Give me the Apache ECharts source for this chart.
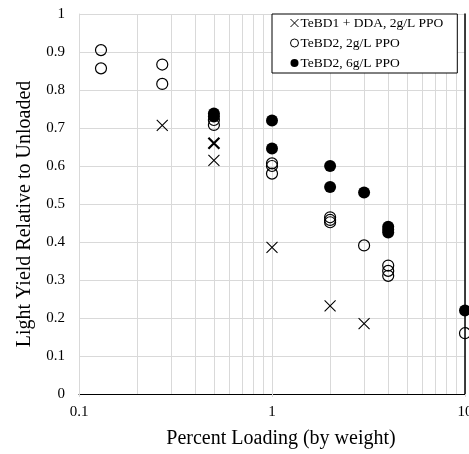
<!DOCTYPE html>
<html>
<head>
<meta charset="utf-8">
<script src="https://cdn.jsdelivr.net/npm/echarts@6/dist/echarts.min.js"></script>
<style>
  html, body { margin: 0; padding: 0; background: #fff; }
  #chart { width: 469px; height: 454px; }
</style>
</head>
<body>
<div id="chart"></div>
<script>
// values
var ddaPoints = [[0.27, 0.707], [0.5, 0.66], [0.5, 0.615], [1, 0.386], [2, 0.232], [3, 0.185]];
var tebd2LowPoints = [
  [0.13, 0.905], [0.13, 0.857], [0.27, 0.867], [0.27, 0.816],
  [0.5, 0.721], [0.5, 0.708], [1, 0.607], [1, 0.6], [1, 0.58],
  [2, 0.465], [2, 0.458], [2, 0.452], [3, 0.391],
  [4, 0.338], [4, 0.324], [4, 0.311], [10, 0.16]
];
var tebd2HighPoints = [
  [0.5, 0.738], [0.5, 0.73], [1, 0.72], [1, 0.646],
  [2, 0.6], [2, 0.545], [3, 0.53],
  [4, 0.44], [4, 0.432], [4, 0.425], [10, 0.22]
];
var minorX = [0.2, 0.3, 0.4, 0.5, 0.6, 0.7, 0.8, 0.9, 2, 3, 4, 5, 6, 7, 8, 9];
var seriesNames = ['TeBD1 + DDA, 2g/L PPO', 'TeBD2, 2g/L PPO', 'TeBD2, 6g/L PPO'];

var font = 'Liberation Serif';
var gridGrey = '#d9d9d9';
var crossPath = 'path://M0,0L10,10M10,0L0,10';

var chart = echarts.init(document.getElementById('chart'));

// the thick cross at 0.5 looks like a doubled mark
var ddaData = ddaPoints.map(function (p) {
  if (p[0] === 0.5 && p[1] === 0.66) {
    return { value: p, itemStyle: { borderWidth: 2.2 } };
  }
  return p;
});

chart.setOption({
  animation: false,
  backgroundColor: '#fff',
  grid: { left: 79, top: 14, right: 4, bottom: 60, outerBoundsMode: 'none', containLabel: false },
  legend: {
    data: [
      { name: seriesNames[0], icon: crossPath },
      { name: seriesNames[1], icon: 'circle' },
      { name: seriesNames[2], icon: 'circle' }
    ],
    z: 20,
    orient: 'vertical',
    left: 272,
    top: 14,
    padding: [2, 14, 3, 18],
    itemGap: 6,
    itemWidth: 8,
    itemHeight: 8,
    itemStyle: { borderWidth: 1 },
    backgroundColor: '#fff',
    borderColor: '#000',
    borderWidth: 1,
    borderRadius: 0,
    textStyle: { fontFamily: font, fontSize: 13.5, color: '#000', lineHeight: 14, padding: [0, 0, 0, -3] }
  },
  xAxis: [{
    type: 'log',
    logBase: 10,
    min: 0.1,
    max: 10,
    name: 'Percent Loading (by weight)',
    nameLocation: 'middle',
    nameGap: 35,
    nameTextStyle: { fontFamily: font, fontSize: 20, color: '#000', padding: [0, 0, 0, 18] },
    axisLine: { lineStyle: { color: gridGrey } },
    axisTick: { show: true, length: 3, lineStyle: { color: gridGrey } },
    axisLabel: { fontFamily: font, fontSize: 15, color: '#000', margin: 11 },
    splitLine: { show: true, lineStyle: { color: gridGrey } }
  }, {
    type: 'log',
    logBase: 10,
    min: 0.1,
    max: 10,
    position: 'top',
    axisLine: { show: true, lineStyle: { color: '#000', width: 1 } },
    axisTick: { show: false },
    axisLabel: { show: false },
    splitLine: { show: false }
  }],
  yAxis: [{
    type: 'value',
    min: 0,
    max: 1,
    interval: 0.1,
    name: 'Light Yield Relative to Unloaded',
    nameLocation: 'middle',
    nameGap: 44,
    nameTextStyle: { fontFamily: font, fontSize: 20, color: '#000', padding: [0, 20, 0, 0] },
    axisLine: { show: true, lineStyle: { color: gridGrey } },
    axisTick: { show: false },
    axisLabel: { fontFamily: font, fontSize: 15, color: '#000', margin: 14 },
    splitLine: { show: true, lineStyle: { color: gridGrey } }
  }, {
    type: 'value',
    min: 0,
    max: 1,
    interval: 0.1,
    position: 'right',
    axisLine: { show: true, lineStyle: { color: '#000', width: 1.5 } },
    axisTick: { show: false },
    axisLabel: { show: false },
    splitLine: { show: false }
  }],
  series: [{
    name: 'minor grid',
    type: 'scatter',
    data: [],
    silent: true,
    z: 1,
    markLine: {
      silent: true,
      symbol: 'none',
      z: 1,
      label: { show: false },
      lineStyle: { color: gridGrey, type: 'solid', width: 1 },
      data: minorX.map(function (v) { return { xAxis: v }; })
    }
  }, {
    name: seriesNames[2],
    type: 'scatter',
    symbol: 'circle',
    symbolSize: 12,
    itemStyle: { color: '#000', opacity: 1 },
    data: tebd2HighPoints,
    z: 3
  }, {
    name: seriesNames[1],
    type: 'scatter',
    symbol: 'circle',
    symbolSize: 11,
    itemStyle: { color: 'rgba(0,0,0,0)', borderColor: '#000', borderWidth: 1.2, opacity: 1 },
    data: tebd2LowPoints,
    z: 4
  }, {
    name: seriesNames[0],
    type: 'scatter',
    symbol: crossPath,
    symbolSize: 11,
    itemStyle: { color: 'rgba(0,0,0,0)', borderColor: '#000', borderWidth: 1.1, opacity: 1 },
    data: ddaData,
    z: 4
  }]
});
</script>
</body>
</html>
